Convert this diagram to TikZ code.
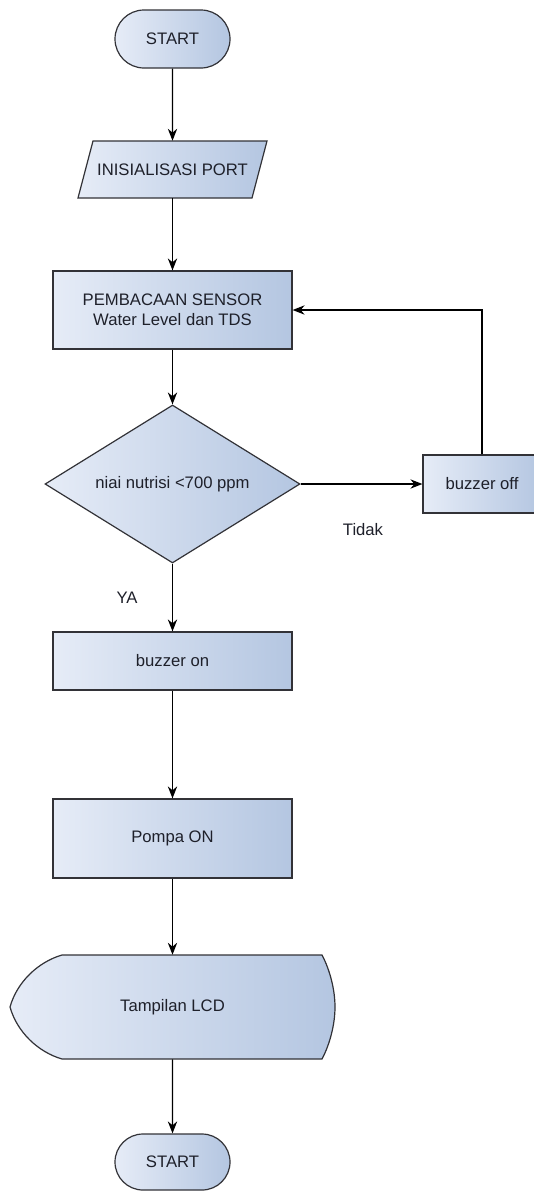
\documentclass[tikz,border=0pt]{standalone}
\usepackage{fontspec}
\setmainfont{Liberation Sans}
\usetikzlibrary{shapes.geometric,shapes.misc,arrows.meta}
\definecolor{fillL}{RGB}{230,236,247}
\definecolor{fillR}{RGB}{180,198,225}
\definecolor{edgec}{RGB}{50,50,55}
\definecolor{txtc}{RGB}{30,32,42}
\begin{document}
\begin{tikzpicture}[x=0.75pt,y=-0.75pt,
  font=\fontsize{12.5}{15}\selectfont, text=txtc,
  grad/.style={left color=fillL, right color=fillR, draw=edgec, line width=0.9pt},
  proc/.style={grad, rectangle, inner sep=0pt, align=center, minimum width=179.25pt},
  term/.style={grad, rounded rectangle, minimum width=86.25pt, minimum height=43.5pt, inner sep=0pt},
  ghost/.style={rectangle, inner sep=0pt, align=center},
  arr/.style={-{Stealth[length=9pt,width=7pt]}, line width=0.9pt, draw=black},
  lbl/.style={inner sep=0pt}
]
\useasboundingbox (0,0) rectangle (534,1192);
% terminals
\node[term] (start) at (172.5,39) {START};
% parallelogram
\path[grad] (93,141) -- (267,141) -- (252,198) -- (78,198) -- cycle;
\node[ghost, minimum width=141.75pt, minimum height=42.75pt] (init) at (172.5,169.5) {INISIALISASI PORT};
% process
\node[proc, minimum height=58.5pt] (read) at (172.5,310) {PEMBACAAN SENSOR\\Water Level dan TDS};
\node[grad, diamond, aspect=1.6, minimum width=191.25pt, minimum height=118.5pt, inner sep=0pt] (dec) at (172.5,484) {niai nutrisi <700 ppm};
\node[grad, rectangle, inner sep=0pt, minimum width=88.5pt, minimum height=43.5pt] (boff) at (482,484) {buzzer off};
\node[proc, minimum height=43.5pt] (bon) at (172.5,661) {buzzer on};
\node[proc, minimum height=59.25pt] (pompa) at (172.5,838.5) {Pompa ON};
% display shape
\path[grad] (62,955) -- (322,955) .. controls (330,970) and (335,990) .. (335,1007)
  .. controls (335,1024) and (330,1044) .. (322,1059) -- (62,1059)
  .. controls (38,1052) and (17,1032) .. (10,1007)
  .. controls (17,982) and (38,962) .. (62,955) -- cycle;
\node[ghost, minimum width=243.75pt, minimum height=78pt] (lcd) at (172.5,1007) {Tampilan LCD};
\node[term, minimum height=42pt] (stop) at (172.5,1162) {START};
% labels
\node[lbl] (tidak) at (363,530) {Tidak};
\node[lbl] (ya) at (127,598) {YA};
% connectors
\draw[arr] (start) -- (init);
\draw[arr] (init) -- (read);
\draw[arr] (read) -- (dec);
\draw[arr] (dec.east) -- (boff.west);
\draw[arr] (boff.north) |- (read.east);
\draw[arr] (dec.south) -- (bon.north);
\draw[arr] (bon) -- (pompa);
\draw[arr] (pompa) -- (lcd);
\draw[arr] (lcd) -- (stop);
\end{tikzpicture}
\end{document}
